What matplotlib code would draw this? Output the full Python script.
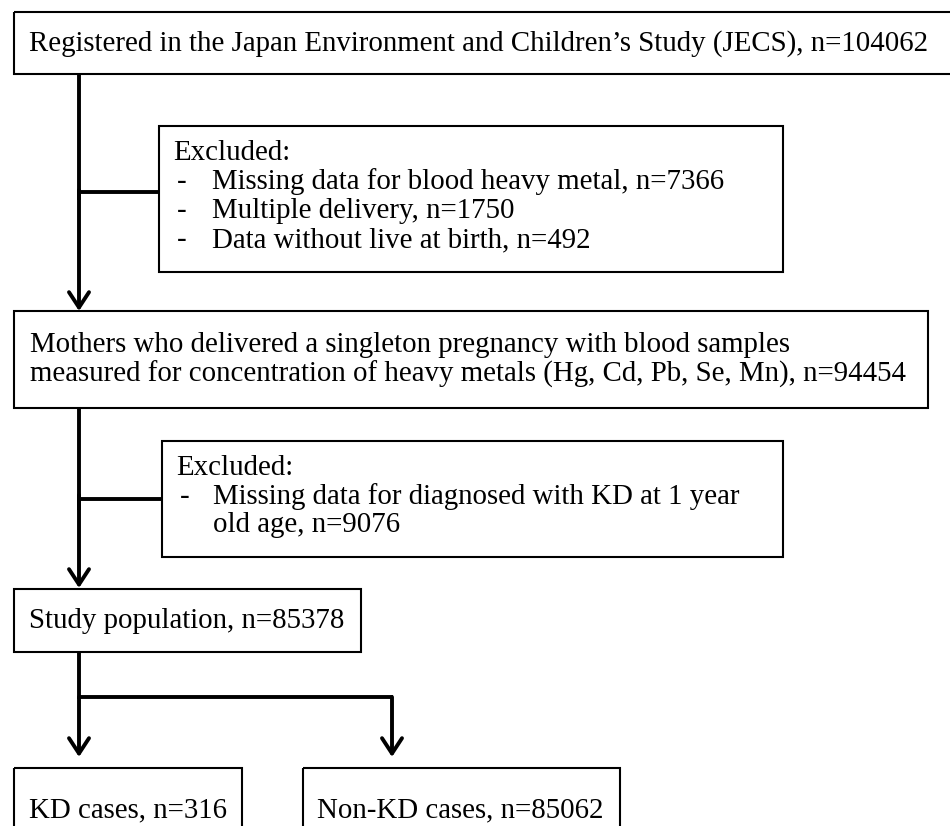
import matplotlib.pyplot as plt
from matplotlib.patches import Rectangle

# box texts
top_text = ["Registered in the Japan Environment and Children\u2019s Study (JECS), n=104062"]
excl1_head = "Excluded:"
excl1_items = ["Missing data for blood heavy metal, n=7366",
               "Multiple delivery, n=1750",
               "Data without live at birth, n=492"]
mid_text = ["Mothers who delivered a singleton pregnancy with blood samples",
            "measured for concentration of heavy metals (Hg, Cd, Pb, Se, Mn), n=94454"]
excl2_head = "Excluded:"
excl2_items = ["Missing data for diagnosed with KD at 1 year"]
excl2_cont = "old age, n=9076"
study_text = ["Study population, n=85378"]
kd_text = ["KD cases, n=316"]
nonkd_text = ["Non-KD cases, n=85062"]

plt.rcParams['font.family'] = ['Liberation Serif', 'DejaVu Serif']
FS = 20.8
BOX_LW = 1.5
ARR_LW = 2.8

fig = plt.figure(figsize=(9.5, 8.26), dpi=100)
ax = fig.add_axes([0, 0, 1, 1])
ax.set_xlim(0, 950)
ax.set_ylim(826, 0)
ax.axis('off')


def box(x0, y0, x1, y1):
    ax.add_patch(Rectangle((x0, y0), x1 - x0, y1 - y0, fill=False,
                           edgecolor='black', linewidth=BOX_LW, clip_on=True))


def line(xs, ys):
    ax.plot(xs, ys, color='black', linewidth=ARR_LW, solid_capstyle='butt',
            solid_joinstyle='miter')


def arrow(x, y0, y1):
    ax.annotate('', xy=(x, y1), xytext=(x, y0),
                arrowprops=dict(arrowstyle='->, head_length=0.55, head_width=0.36',
                                lw=ARR_LW, color='black', shrinkA=0, shrinkB=0,
                                mutation_scale=20))


def lines_at(x, ys, texts):
    for y, t in zip(ys, texts):
        ax.text(x, y, t, fontsize=FS, ha='left', va='center')


def items_at(ys, items, xdash, xtext):
    for y, t in zip(ys, items):
        ax.text(xdash, y, '-', fontsize=FS, ha='left', va='center')
        ax.text(xtext, y, t, fontsize=FS, ha='left', va='center')


TRUNK = 79

# top box
box(14, 12, 960, 74)
lines_at(29, [44], top_text)

# excluded 1
box(159, 126, 783, 272)
ax.text(173, 153, excl1_head, fontsize=FS, ha='left', va='center')
items_at([182, 211, 240], excl1_items, 177, 212)

line([TRUNK, TRUNK], [74, 200])
line([TRUNK, 159], [192, 192])
arrow(TRUNK, 190, 311)

# mid box
box(14, 311, 928, 408)
lines_at(30, [345, 374], mid_text)

# excluded 2
box(162, 441, 783, 557)
ax.text(176, 468, excl2_head, fontsize=FS, ha='left', va='center')
items_at([497], excl2_items, 180, 213)
ax.text(213, 525, excl2_cont, fontsize=FS, ha='left', va='center')

line([TRUNK, TRUNK], [408, 510])
line([TRUNK, 162], [499, 499])
arrow(TRUNK, 495, 588)

# study population
box(14, 589, 361, 652)
lines_at(29, [621], study_text)

line([TRUNK, TRUNK], [652, 698.5])
line([TRUNK - 1.4, 392 + 1.4], [697, 697])
arrow(TRUNK, 697, 757)
arrow(392, 697, 757)

# bottom boxes
box(14, 768, 242, 900)
lines_at(29, [810], kd_text)
box(303, 768, 620, 900)
lines_at(317, [810], nonkd_text)

fig.savefig('out.png', dpi=100)
